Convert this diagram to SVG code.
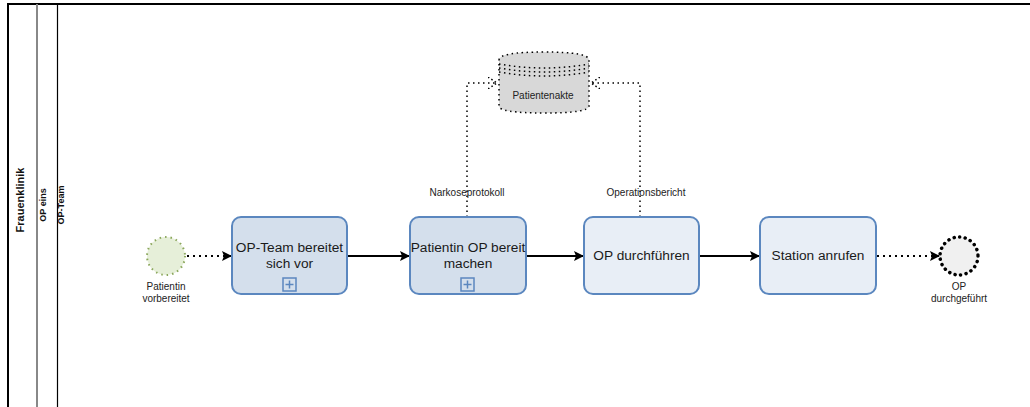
<svg xmlns="http://www.w3.org/2000/svg" width="1030" height="407" viewBox="0 0 1030 407">
<style>
.task{fill:#d4dfec;stroke:#5b87bf;stroke-width:2}
.task2{fill:#e8eef6;stroke:#5b87bf;stroke-width:2}
.tt{font-family:"Liberation Sans",Arial,sans-serif;font-size:13.7px;fill:#1a1a1a;text-anchor:middle}
.lbl{font-family:"Liberation Sans",Arial,sans-serif;font-size:10px;fill:#222;text-anchor:middle}
.lane{font-family:"Liberation Sans",Arial,sans-serif;font-weight:bold;fill:#111;text-anchor:middle}
.seq{stroke:#000;stroke-width:2;fill:none}
.dot{stroke:#000;stroke-width:2;fill:none;stroke-dasharray:2 4}
.assoc{stroke:#000;stroke-width:1.5;fill:none;stroke-dasharray:1.5 3.5}
</style>
<defs>
<marker id="arr" markerWidth="10" markerHeight="10" refX="9" refY="5" orient="auto" markerUnits="userSpaceOnUse">
<path d="M0,0 L10,5 L0,10 L2,5 Z" fill="#000"/>
</marker>
<marker id="oarr" markerWidth="10" markerHeight="12" refX="9" refY="6" orient="auto" markerUnits="userSpaceOnUse">
<path d="M0,0 L9,6 L0,12" fill="none" stroke="#000" stroke-width="1.5" stroke-dasharray="1.5 2.5"/>
</marker>
</defs>
<rect width="1030" height="407" fill="#fff"/>
<g id="pool">
<path d="M8,410 V4 H1035" fill="none" stroke="#000" stroke-width="2"/>
<line x1="37" y1="4" x2="37" y2="410" stroke="#888" stroke-width="2"/>
<line x1="57.5" y1="4" x2="57.5" y2="410" stroke="#000" stroke-width="1.2"/>
<text class="lane" font-size="11" transform="translate(24,200) rotate(-90)">Frauenklinik</text>
<text class="lane" font-size="9" transform="translate(46,205) rotate(-90)">OP eins</text>
<text class="lane" font-size="9" transform="translate(64,205) rotate(-90)">OP-Team</text>
</g>
<g id="connectors">
<line class="dot" x1="187" y1="256" x2="231" y2="256" marker-end="url(#arr)"/>
<line class="seq" x1="347" y1="256" x2="409" y2="256" marker-end="url(#arr)"/>
<line class="seq" x1="526" y1="256" x2="583" y2="256" marker-end="url(#arr)"/>
<line class="seq" x1="699" y1="256" x2="759" y2="256" marker-end="url(#arr)"/>
<line class="dot" x1="877" y1="256" x2="939" y2="256" marker-end="url(#arr)"/>
<path class="assoc" d="M467,217 V83 H497" marker-end="url(#oarr)"/>
<path class="assoc" d="M640,217 V83 H591" marker-end="url(#oarr)"/>
<text class="lbl" x="467" y="196">Narkoseprotokoll</text>
<text class="lbl" x="646" y="196">Operationsbericht</text>
</g>
<g id="start">
<circle cx="166" cy="256" r="19" fill="#e6efd9" stroke="#8aa65a" stroke-width="2" stroke-dasharray="1.5 4"/>
<text class="lbl" x="166" y="290">Patientin</text>
<text class="lbl" x="166" y="302">vorbereitet</text>
</g>
<g id="task1">
<rect class="task" x="232" y="217" width="115" height="77" rx="9"/>
<text class="tt" x="289.5" y="252">OP-Team bereitet</text>
<text class="tt" x="289.5" y="268">sich vor</text>
<rect x="283" y="278" width="13" height="13" fill="none" stroke="#5b87bf" stroke-width="1.5"/>
<path d="M289.5,280.5 v8 M285.5,284.5 h8" stroke="#5b87bf" stroke-width="1.5"/>
</g>
<g id="task2">
<rect class="task" x="410" y="217" width="116" height="77" rx="9"/>
<text class="tt" x="468" y="252">Patientin OP bereit</text>
<text class="tt" x="468" y="268">machen</text>
<rect x="461" y="278" width="13" height="13" fill="none" stroke="#5b87bf" stroke-width="1.5"/>
<path d="M467.5,280.5 v8 M463.5,284.5 h8" stroke="#5b87bf" stroke-width="1.5"/>
</g>
<g id="task3">
<rect class="task2" x="584" y="217" width="115" height="77" rx="9"/>
<text class="tt" x="641.5" y="260">OP durchführen</text>
</g>
<g id="task4">
<rect class="task2" x="760" y="217" width="116" height="77" rx="9"/>
<text class="tt" x="818" y="260">Station anrufen</text>
</g>
<g id="end">
<circle cx="959" cy="256" r="19" fill="#f0f0f0" stroke="#000" stroke-width="3.5" stroke-dasharray="0.1 5.5" stroke-linecap="round"/>
<text class="lbl" x="959" y="290">OP</text>
<text class="lbl" x="959" y="302">durchgeführt</text>
</g>
<g id="datastore">
<path d="M499,60 Q499,52 544,52 Q589,52 589,60 V106 Q589,113 544,113 Q499,113 499,106 Z" fill="#d8d8d8"/>
<path d="M499,60 Q499,52 544,52 Q589,52 589,60 V106 Q589,113 544,113 Q499,113 499,106 Z M499,64 Q544,72 589,64 M499,68 Q544,76 589,68 M499,72 Q544,80 589,72" fill="none" stroke="#000" stroke-width="1.5" stroke-dasharray="1.5 3.5"/>
<text class="lbl" x="543" y="99">Patientenakte</text>
</g>
</svg>
